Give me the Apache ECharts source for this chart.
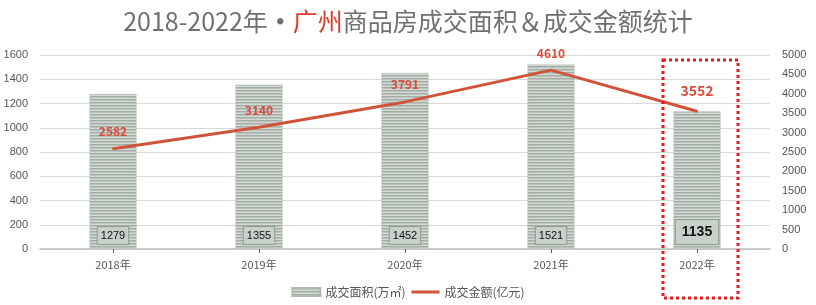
<!DOCTYPE html>
<html>
<head>
<meta charset="utf-8">
<script src="https://cdn.jsdelivr.net/npm/echarts@6/dist/echarts.min.js"></script>
<style>
  html, body { margin: 0; padding: 0; background: #fff; }
  #main { width: 816px; height: 305px; }
</style>
</head>
<body>
<div id="main"></div>
<script>
// chart data
const years = ['2018年', '2019年', '2020年', '2021年', '2022年'];
const areaValues = [1279, 1355, 1452, 1521, 1135];   // 成交面积(万㎡)
const amountValues = [2582, 3140, 3791, 4610, 3552]; // 成交金额(亿元)
const leftTicks = { min: 0, max: 1600, interval: 200 };
const rightTicks = { min: 0, max: 5000, interval: 500 };

// striped fill for the bars
function stripePattern() {
  const c = document.createElement('canvas');
  c.width = 4; c.height = 3;
  const ctx = c.getContext('2d');
  ctx.fillStyle = '#d3d9d3';
  ctx.fillRect(0, 0, 4, 3);
  ctx.fillStyle = '#a3ada5';
  ctx.fillRect(0, 0, 4, 1.5);
  return c;
}
const stripes = stripePattern();
const lineColor = '#d0533a';
const labelRed = '#dc4a3c';
const FONT = '"Noto Sans CJK SC", sans-serif';
const plain = v => String(v);

const chart = echarts.init(document.getElementById('main'), null, { renderer: 'canvas' });
chart.setOption({
  animation: false,
  backgroundColor: '#fff',
  title: {
    text: '{a|2018-2022年}{d|·}{r|广州}{a|商品房成交面积＆成交金额统计}',
    left: 'center',
    top: 4,
    textStyle: {
      rich: {
        a: { fontSize: 25, color: '#707070', fontFamily: FONT, fontWeight: 'normal' },
        d: { fontSize: 25, color: '#707070', fontFamily: FONT },
        r: { fontSize: 25, color: '#e03a2a', fontFamily: FONT, fontWeight: 'normal' }
      }
    }
  },
  legend: {
    bottom: 2,
    left: 'center',
    itemWidth: 28,
    itemHeight: 8,
    itemGap: 6,
    textStyle: { color: '#555', fontSize: 12, fontFamily: FONT },
    data: [
      { name: '成交面积(万㎡)', icon: 'rect' },
      { name: '成交金额(亿元)', icon: 'path://M0,4 L28,4 L28,7 L0,7 Z' }
    ]
  },
  grid: { left: 40, right: 46, top: 55, bottom: 56, containLabel: false },
  xAxis: {
    type: 'category',
    data: years,
    axisLine: { lineStyle: { color: '#bfbfbf', width: 1.5 } },
    axisTick: { show: true, alignWithLabel: true, length: 4, lineStyle: { color: '#555' } },
    axisLabel: { color: '#555', fontSize: 11, margin: 10, fontFamily: FONT }
  },
  yAxis: [
    {
      type: 'value',
      min: leftTicks.min, max: leftTicks.max, interval: leftTicks.interval,
      axisLine: { show: false },
      axisTick: { show: false },
      axisLabel: { color: '#555', fontSize: 11, margin: 12, formatter: plain },
      splitLine: { lineStyle: { color: '#d9d9d9' } }
    },
    {
      type: 'value',
      min: rightTicks.min, max: rightTicks.max, interval: rightTicks.interval,
      axisLine: { show: false },
      axisTick: { show: false },
      axisLabel: { color: '#555', fontSize: 11, margin: 12, formatter: plain },
      splitLine: { show: false }
    }
  ],
  series: [
    {
      name: '成交面积(万㎡)',
      type: 'bar',
      barWidth: 47,
      itemStyle: {
        color: { image: stripes, repeat: 'repeat' },
        borderColor: '#b0b9b2',
        borderWidth: 0.5
      },
      data: areaValues.map((v, i) => {
        const last = i === areaValues.length - 1;
        return {
          value: v,
          label: {
            show: true,
            position: 'insideBottom',
            distance: 5,
            color: '#111',
            fontSize: last ? 14 : 11,
            fontWeight: last ? 'bold' : 'normal',
            backgroundColor: '#c9d0c9',
            borderColor: '#8f9a91',
            borderWidth: 1,
            padding: last ? [5, 6] : [3, 3]
          }
        };
      })
    },
    {
      name: '成交金额(亿元)',
      type: 'line',
      yAxisIndex: 1,
      symbol: 'circle',
      symbolSize: 2,
      showSymbol: true,
      lineStyle: { color: lineColor, width: 3 },
      itemStyle: { color: lineColor },
      data: amountValues.map((v, i) => {
        const last = i === amountValues.length - 1;
        return {
          value: v,
          label: {
            show: true,
            position: 'top',
            distance: last ? 12 : 10,
            color: labelRed,
            fontSize: last ? 14 : 12,
            fontWeight: 'bold',
            fontFamily: FONT
          }
        };
      })
    }
  ],
  graphic: [
    {
      type: 'rect',
      shape: { x: 663, y: 60, width: 75, height: 238 },
      style: { fill: 'none', stroke: '#e8191c', lineWidth: 3, lineDash: [3, 3] },
      z: 100
    }
  ]
});
</script>
</body>
</html>
